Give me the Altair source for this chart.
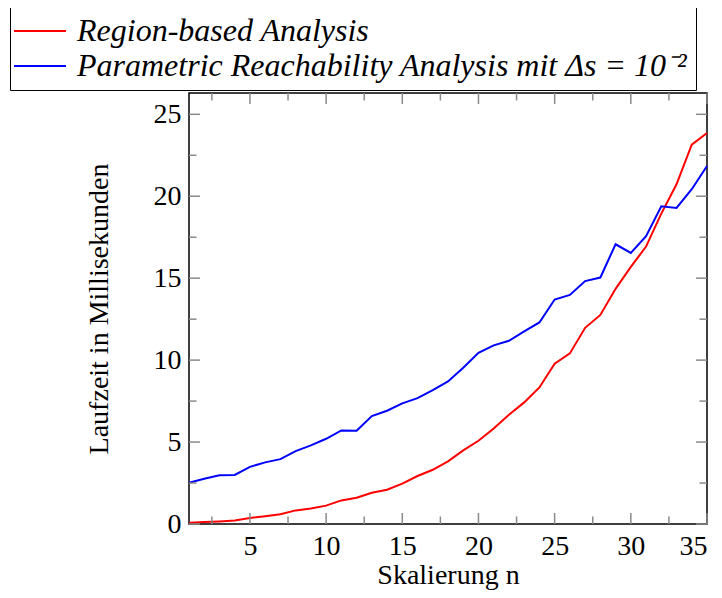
import altair as alt
import pandas as pd

# ---- data ----
n_values = list(range(1, 36))
region_based = [0.08, 0.12, 0.16, 0.22, 0.37, 0.47, 0.59, 0.83, 0.95, 1.12,
                1.44, 1.60, 1.91, 2.09, 2.46, 2.93, 3.31, 3.82, 4.49, 5.08,
                5.83, 6.67, 7.42, 8.33, 9.78, 10.41, 11.97, 12.76, 14.35, 15.69,
                16.93, 18.94, 20.73, 23.15, 23.86]
parametric = [2.52, 2.76, 2.97, 2.99, 3.49, 3.76, 3.96, 4.45, 4.80, 5.20,
              5.71, 5.69, 6.59, 6.91, 7.36, 7.68, 8.17, 8.70, 9.53, 10.45,
              10.90, 11.18, 11.75, 12.30, 13.70, 13.98, 14.82, 15.04, 17.07, 16.54,
              17.56, 19.39, 19.29, 20.43, 21.85]
series_names = ["Region-based Analysis",
                "Parametric Reachability Analysis mit \u0394s = 10\u207b\u00b2"]
series_colors = ["#ff0000", "#0000ff"]

x_major = [5, 10, 15, 20, 25, 30, 35]
x_minor = [2.5, 7.5, 12.5, 17.5, 22.5, 27.5, 32.5]
y_major = [0, 5, 10, 15, 20, 25]
y_minor = [2.5, 7.5, 12.5, 17.5, 22.5]

W, H = 518, 431
FONT = "Liberation Serif"
TICK_COLOR = "#8a8a8a"
MAJ, MIN = 11, 7.5

df = pd.DataFrame({
    "n": n_values * 2,
    "t": region_based + parametric,
    "series": [series_names[0]] * len(n_values) + [series_names[1]] * len(n_values),
})

xscale = alt.Scale(domain=[1, 35], nice=False, zero=False)
yscale = alt.Scale(domain=[0, 26.3], nice=False, zero=False)

x_axis = alt.Axis(values=x_major, title="Skalierung n", labelPadding=8,
                  titleBaseline="alphabetic", titleY=59, format="d")
y_axis = alt.Axis(values=y_major, title="Laufzeit in Millisekunden",
                  labelPadding=8, titlePadding=40, format="d")

lines = alt.Chart(df).mark_line(strokeWidth=2).encode(
    x=alt.X("n:Q", scale=xscale, axis=x_axis),
    y=alt.Y("t:Q", scale=yscale, axis=y_axis),
    color=alt.Color(
        "series:N",
        scale=alt.Scale(domain=series_names, range=series_colors),
        sort=series_names,
        legend=alt.Legend(
            title=None, orient="none", legendX=-179, legendY=-86,
            direction="vertical", strokeColor="black", fillColor="white",
            padding=8, symbolType="M-1,0H3", symbolSize=676,
            symbolStrokeWidth=2, symbolOffset=-7,
            labelFont=FONT, labelFontSize=32, labelFontStyle="italic",
            labelColor="black", labelAlign="left", labelOffset=34,
            labelLimit=1000, rowPadding=3,
        ),
    ),
)

xmaj = pd.DataFrame({"v": x_major})
xmin = pd.DataFrame({"v": x_minor})
ymaj = pd.DataFrame({"v": y_major})
ymin = pd.DataFrame({"v": y_minor})


def xticks(data, length):
    base = alt.Chart(data).mark_rule(color=TICK_COLOR, strokeWidth=1.5)
    bottom = base.encode(x=alt.X("v:Q", scale=xscale, axis=x_axis),
                         y=alt.value(H), y2=alt.value(H - length))
    top = base.encode(x=alt.X("v:Q", scale=xscale, axis=x_axis),
                      y=alt.value(0), y2=alt.value(length))
    return [bottom, top]


def yticks(data, length):
    base = alt.Chart(data).mark_rule(color=TICK_COLOR, strokeWidth=1.5)
    left = base.encode(y=alt.Y("v:Q", scale=yscale, axis=y_axis),
                       x=alt.value(0), x2=alt.value(length))
    right = base.encode(y=alt.Y("v:Q", scale=yscale, axis=y_axis),
                        x=alt.value(W), x2=alt.value(W - length))
    return [left, right]


layers = ([lines] + xticks(xmaj, MAJ) + xticks(xmin, MIN) +
          yticks(ymaj, MAJ) + yticks(ymin, MIN))

chart = alt.layer(*layers).properties(
    width=W, height=H,
    autosize=alt.AutoSizeParams(type="none"),
    padding={"left": 181, "top": 85, "right": 7, "bottom": 66},
).configure_view(
    stroke="black", strokeWidth=1.5
).configure_axis(
    domain=False, ticks=False, tickSize=0, grid=False,
    labelFont=FONT, labelFontSize=28, labelColor="black",
    titleFont=FONT, titleFontSize=28, titleFontWeight="normal", titleColor="black",
)

chart.save("out.html", embed_options={"renderer": "svg", "actions": False})
